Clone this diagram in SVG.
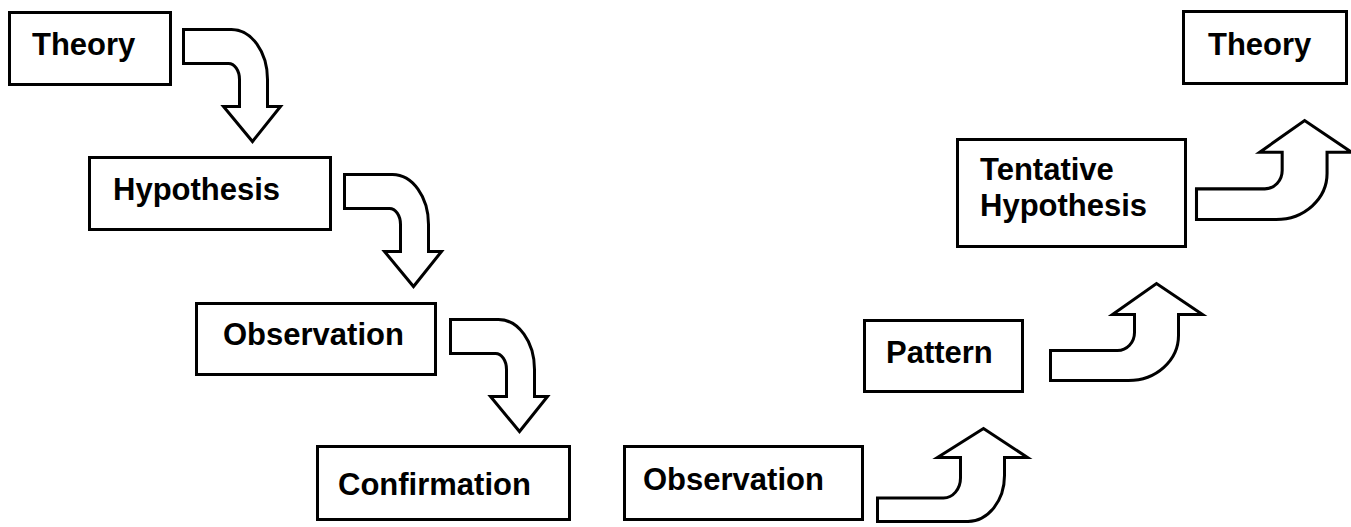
<svg xmlns="http://www.w3.org/2000/svg" width="1351" height="527" viewBox="0 0 1351 527">
<style>
.box{fill:#fff;stroke:#000;stroke-width:3}
.lbl{font-family:"Liberation Sans",Arial,sans-serif;font-weight:bold;font-size:31px;fill:#000}
.arr{fill:#fff;stroke:#000;stroke-width:3;stroke-linejoin:miter}
</style>
<defs>
<path id="down" d="M0,0 H48 A36,50 0 0 1 84,50 V77 H97 L69,112 L40,77 H56 V50 A11,16 0 0 0 45,34 H0 Z"/>
<path id="up" d="M0,0 H78 A50,45 0 0 0 128,-45 V-66 H152 L106,-97 L62,-66 H84 V-48 A17,18 0 0 1 67,-30 H0 Z"/>
</defs>
<rect width="1351" height="527" fill="#fff"/>
<g id="theory1"><rect class="box" x="9.5" y="12.5" width="161" height="72"/><text class="lbl" x="32" y="55">Theory</text></g>
<g id="hypothesis"><rect class="box" x="89.5" y="157.5" width="241" height="72"/><text class="lbl" x="113" y="200">Hypothesis</text></g>
<g id="observation1"><rect class="box" x="196.5" y="303.5" width="239" height="71"/><text class="lbl" x="223" y="345">Observation</text></g>
<g id="confirmation"><rect class="box" x="317.5" y="446.5" width="252" height="73"/><text class="lbl" x="338" y="495">Confirmation</text></g>
<g id="observation2"><rect class="box" x="624.5" y="446.5" width="238" height="73"/><text class="lbl" x="643" y="490">Observation</text></g>
<g id="pattern"><rect class="box" x="864.5" y="320.5" width="158" height="71"/><text class="lbl" x="886" y="363">Pattern</text></g>
<g id="tentative"><rect class="box" x="957.5" y="139.5" width="228" height="107"/><text class="lbl" x="980" y="180">Tentative</text><text class="lbl" x="980" y="216">Hypothesis</text></g>
<g id="theory2"><rect class="box" x="1183.5" y="11.5" width="163" height="72"/><text class="lbl" x="1208" y="55">Theory</text></g>
<g id="connectors">
<use href="#down" class="arr" transform="translate(183.5,29.5)"/>
<use href="#down" class="arr" transform="translate(344.5,174.5)"/>
<use href="#down" class="arr" transform="translate(450.5,319.5)"/>
<path class="arr" d="M877.5,521.5 H968 A37,46 0 0 0 1004.5,475.5 V457.5 H1027.5 L983.5,428.5 L937.5,457.5 H960.5 V478 A17,20 0 0 1 943.5,498 H877.5 Z"/>
<use href="#up" class="arr" transform="translate(1050.5,380.5)"/>
<use href="#up" class="arr" transform="translate(1196.5,219.5) scale(1.02,1.02)"/>
</g>
</svg>
